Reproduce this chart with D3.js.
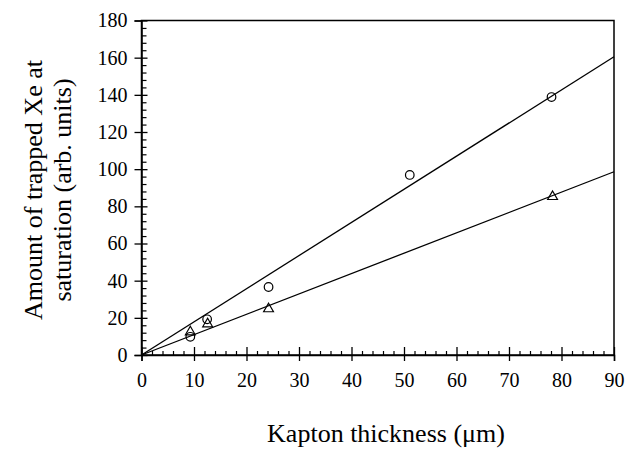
<!DOCTYPE html>
<meta charset="utf-8">
<script src="https://d3js.org/d3.v7.min.js"></script>
<body style="margin:0; background:#fff">
<div id="my_dataviz"></div>
<script>
    // data
    const circleX = [9.3, 12.5, 24.2, 51.1, 78.1];
    const circleY = [9.8, 19.2, 36.6, 96.9, 138.8];
    const triangleX = [9.3, 12.6, 24.2, 78.3];
    const triangleY = [12.4, 16.7, 24.8, 85.2];
    // straight fits through the origin
    const fitCircle = [[0, 0], [90, 160.5]];
    const fitTriangle = [[0, 0], [90, 98.6]];
    const xTicks = [0, 10, 20, 30, 40, 50, 60, 70, 80, 90];
    const yTicks = [0, 20, 40, 60, 80, 100, 120, 140, 160, 180];

    const FONT = '"Liberation Serif"';
    const W = 628, H = 449;
    const margin = { top: 20.5, right: 14, bottom: 94, left: 141.5 },
        width = W - margin.left - margin.right,
        height = H - margin.top - margin.bottom;

    const svg = d3.select("#my_dataviz")
        .append("svg")
        .attr("width", W)
        .attr("height", H)
        .append("g")
        .attr("transform", `translate(${margin.left}, ${margin.top})`);

    const x = d3.scaleLinear().domain([0, 90]).range([0, width]);
    const y = d3.scaleLinear().domain([0, 180]).range([height, 0]);

    // frame: top and right sides are plain lines
    svg.append("rect")
        .attr("width", width)
        .attr("height", height)
        .attr("fill", "none")
        .attr("stroke", "#000")
        .attr("stroke-width", 1.5);

    // minor ticks (inside)
    const xMinor = d3.range(0, 91, 2).filter(d => d % 10 !== 0);
    const yMinor = d3.range(0, 181, 4).filter(d => d % 20 !== 0);

    svg.append("g")
        .attr("transform", `translate(0, ${height})`)
        .call(d3.axisTop(x).tickValues(xMinor).tickSize(4).tickFormat(""))
        .call(g => g.select(".domain").remove())
        .selectAll("line").attr("stroke-width", 1.2);

    svg.append("g")
        .call(d3.axisRight(y).tickValues(yMinor).tickSize(5).tickFormat(""))
        .call(g => g.select(".domain").remove())
        .selectAll("line").attr("stroke-width", 1.2);

    // major X axis
    const xAxis = svg.append("g")
        .attr("transform", `translate(0, ${height})`)
        .call(d3.axisBottom(x).tickValues(xTicks).tickSize(6).tickPadding(12))
        .call(g => g.select(".domain").attr("stroke-width", 1.5));
    xAxis.selectAll(".tick line").attr("y1", -8).attr("y2", 6).attr("stroke-width", 1.3);
    xAxis.selectAll(".tick text")
        .attr("font-family", FONT).attr("font-size", 20)
        .style("font-family", FONT).style("font-size", "20px");

    // major Y axis
    const yAxis = svg.append("g")
        .call(d3.axisLeft(y).tickValues(yTicks).tickSize(7).tickPadding(7))
        .call(g => g.select(".domain").attr("stroke-width", 1.5));
    yAxis.selectAll(".tick line").attr("x1", 6).attr("x2", -7).attr("stroke-width", 1.3);
    yAxis.selectAll(".tick text")
        .attr("font-family", FONT).attr("font-size", 20)
        .style("font-family", FONT).style("font-size", "20px");

    // fit lines
    const line = d3.line()
        .x(function (d) { return x(d[0]); })
        .y(function (d) { return y(d[1]); });

    [fitCircle, fitTriangle].forEach(function (f) {
        svg.append("path")
            .datum(f)
            .attr("fill", "none")
            .attr("stroke", "#000")
            .attr("stroke-width", 1.3)
            .attr("d", line);
    });

    // markers
    svg.selectAll(".circ")
        .data(circleX)
        .join("circle")
        .attr("class", "circ")
        .attr("cx", function (d) { return x(d); })
        .attr("cy", function (d, i) { return y(circleY[i]); })
        .attr("r", 4.3)
        .attr("fill", "none")
        .attr("stroke", "#000")
        .attr("stroke-width", 1.2);

    const tri = d3.symbol().type(d3.symbolTriangle).size(42);
    svg.selectAll(".tri")
        .data(triangleX)
        .join("path")
        .attr("class", "tri")
        .attr("transform", function (d, i) { return `translate(${x(d)}, ${y(triangleY[i])})`; })
        .attr("d", tri)
        .attr("fill", "none")
        .attr("stroke", "#000")
        .attr("stroke-width", 1.2);

    // axis titles
    svg.append("text")
        .attr("x", 386 - margin.left)
        .attr("y", 442 - margin.top)
        .attr("text-anchor", "middle")
        .attr("font-family", FONT)
        .attr("font-size", 26)
        .text("Kapton thickness (\u03bcm)");

    const yt = svg.append("text")
        .attr("transform", `translate(${-margin.left}, ${190 - margin.top}) rotate(-90)`)
        .attr("text-anchor", "middle")
        .attr("font-family", FONT)
        .attr("font-size", 26);
    yt.append("tspan").attr("x", 0).attr("y", 42).text("Amount of trapped Xe at");
    yt.append("tspan").attr("x", 0).attr("y", 71).text("saturation (arb. units)");
</script>
